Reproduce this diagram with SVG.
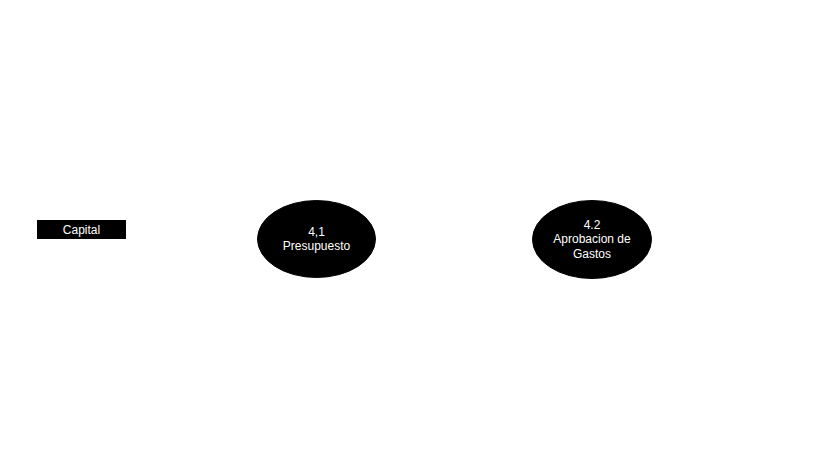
<svg xmlns="http://www.w3.org/2000/svg" width="825" height="457" viewBox="0 0 825 457">
<style>
.s{fill:#000;stroke:#000;stroke-width:1}
.t{font-family:"Liberation Sans",Arial,sans-serif;font-size:12px;fill:#fff;text-anchor:middle}
</style>
<rect width="825" height="457" fill="#fff"/>
<g id="connectors"></g>
<g id="capital">
<rect class="s" x="37.5" y="220.5" width="88" height="18"/>
<text class="t" x="81.5" y="233.5">Capital</text>
</g>
<g id="p41">
<ellipse class="s" cx="316.5" cy="239" rx="59" ry="38.5"/>
<text class="t" x="316.5" y="236">4,1</text>
<text class="t" x="316.5" y="250">Presupuesto</text>
</g>
<g id="p42">
<ellipse class="s" cx="592" cy="239.5" rx="59.5" ry="39"/>
<text class="t" x="592" y="229">4.2</text>
<text class="t" x="592" y="243">Aprobacion de</text>
<text class="t" x="592" y="258">Gastos</text>
</g>
</svg>
